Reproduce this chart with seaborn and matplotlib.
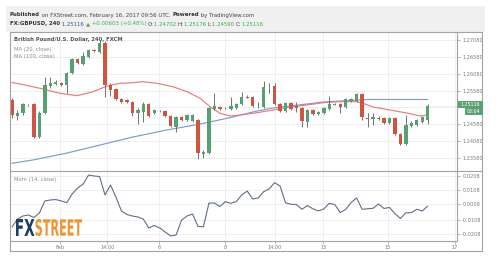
import numpy as np
import pandas as pd
import matplotlib
matplotlib.use("Agg")
import matplotlib.pyplot as plt
import seaborn as sns
from matplotlib.textpath import TextPath
from matplotlib.patches import PathPatch, Rectangle
from matplotlib.font_manager import FontProperties
from matplotlib.transforms import Affine2D
from matplotlib.lines import Line2D

# ---------------- data ----------------
opens = [1.25300, 1.24825, 1.24914, 1.25137, 1.25181, 1.24202, 1.24914, 1.25715, 1.25775, 1.25804,
         1.25745, 1.26101, 1.26516, 1.26368, 1.26575, 1.26783, 1.26724, 1.26991, 1.25745, 1.25626,
         1.25330, 1.25300, 1.25241, 1.24914, 1.24944, 1.25181, 1.24914, 1.24988, 1.24974, 1.24825,
         1.24499, 1.24796, 1.24706, 1.24677, 1.24706, 1.23698, 1.23728, 1.25033, 1.25092, 1.25077,
         1.25033, 1.25063, 1.25181, 1.25389, 1.25389, 1.25152, 1.25092, 1.25700, 1.25715, 1.25181,
         1.24974, 1.25211, 1.25122, 1.25063, 1.24647, 1.25003, 1.24884, 1.24914, 1.25033, 1.25166,
         1.25181, 1.25092, 1.25270, 1.25270, 1.25478, 1.24766, 1.24736, 1.24766, 1.24766, 1.24618,
         1.24766, 1.24291, 1.23995, 1.24529, 1.24558, 1.24647, 1.24702]
highs = [1.25359, 1.25003, 1.25211, 1.25181, 1.25211, 1.24974, 1.25982, 1.25982, 1.25893, 1.25834,
         1.26130, 1.26546, 1.26546, 1.26724, 1.26813, 1.26813, 1.27080, 1.27050, 1.25804, 1.25656,
         1.25359, 1.25330, 1.25270, 1.25063, 1.25241, 1.25211, 1.25033, 1.25003, 1.25003, 1.24855,
         1.24825, 1.24825, 1.24884, 1.24884, 1.24736, 1.23817, 1.25092, 1.25508, 1.25122, 1.25092,
         1.25389, 1.25211, 1.25537, 1.25448, 1.25419, 1.25241, 1.25864, 1.25804, 1.25804, 1.25211,
         1.25241, 1.25241, 1.25241, 1.25092, 1.25033, 1.25033, 1.24974, 1.25092, 1.25419, 1.25211,
         1.25211, 1.25359, 1.25359, 1.25508, 1.25508, 1.24914, 1.24914, 1.24825, 1.24796, 1.24796,
         1.24796, 1.24321, 1.24855, 1.24677, 1.24736, 1.24825, 1.25176]
lows = [1.24766, 1.24706, 1.24855, 1.25122, 1.24173, 1.24173, 1.24884, 1.25656, 1.25745, 1.25715,
        1.25508, 1.26071, 1.26368, 1.26338, 1.26546, 1.26724, 1.26694, 1.25389, 1.25419, 1.25300,
        1.25211, 1.25211, 1.24825, 1.24588, 1.24647, 1.24796, 1.24884, 1.24944, 1.24796, 1.24499,
        1.24351, 1.24677, 1.24677, 1.24647, 1.23550, 1.23580, 1.23698, 1.25003, 1.25003, 1.25033,
        1.25003, 1.25033, 1.25152, 1.25359, 1.25092, 1.25063, 1.25063, 1.25508, 1.25152, 1.24944,
        1.24944, 1.25003, 1.24944, 1.24499, 1.24499, 1.24855, 1.24855, 1.24884, 1.25003, 1.25152,
        1.24914, 1.25063, 1.25241, 1.25241, 1.24706, 1.24499, 1.24558, 1.24706, 1.24588, 1.24588,
        1.24262, 1.23965, 1.23965, 1.24499, 1.24529, 1.24618, 1.24590]
closes = [1.24855, 1.24914, 1.25181, 1.25166, 1.24202, 1.24914, 1.25745, 1.25804, 1.25834, 1.25745,
          1.26101, 1.26516, 1.26397, 1.26605, 1.26783, 1.26753, 1.26991, 1.25745, 1.25597, 1.25330,
          1.25241, 1.25241, 1.24914, 1.25003, 1.25181, 1.24825, 1.25003, 1.24959, 1.24825, 1.24529,
          1.24796, 1.24706, 1.24855, 1.24855, 1.23728, 1.23758, 1.25063, 1.25122, 1.25033, 1.25048,
          1.25122, 1.25181, 1.25389, 1.25374, 1.25122, 1.25137, 1.25686, 1.25671, 1.25181, 1.24974,
          1.25211, 1.25033, 1.25063, 1.24677, 1.25003, 1.24884, 1.24944, 1.25063, 1.25181, 1.25196,
          1.25092, 1.25330, 1.25330, 1.25478, 1.24796, 1.24736, 1.24796, 1.24751, 1.24618, 1.24766,
          1.24291, 1.23995, 1.24558, 1.24618, 1.24706, 1.24796, 1.25116]

ma20_x = [0, 1.5, 5.1, 8.8, 11.9, 14.8, 17.4, 19.7, 22.1, 23.9, 26.5, 29.4, 32.0, 34.4, 36.2, 38.0,
          39.9, 41.7, 44.8, 47.7, 50.8, 53.9, 56.9, 60.0, 63.1, 64.0, 66.0, 69.1, 72.2, 74.6, 76.0]
ma20 = [1.25819, 1.25775, 1.25647, 1.25499, 1.25428, 1.25546, 1.25715, 1.25795, 1.25813, 1.25843,
        1.25795, 1.25695, 1.25546, 1.25350, 1.25101, 1.24906, 1.24825, 1.24855, 1.24923, 1.25003,
        1.25092, 1.25152, 1.25220, 1.25250, 1.25250, 1.25211, 1.25092, 1.25003, 1.24914, 1.24825,
        1.24855]

ma100_x = [0, 3.8, 10.1, 16.1, 22.1, 28.3, 34.4, 40.4, 43.5, 44.8, 47.7, 50.8, 53.9, 56.9, 60.0,
           63.1, 65.4, 70.0, 76.0]
ma100 = [1.23423, 1.23520, 1.23728, 1.23965, 1.24203, 1.24410, 1.24588, 1.24796, 1.24923, 1.24974,
         1.25063, 1.25122, 1.25181, 1.25241, 1.25270, 1.25300, 1.25315, 1.25315, 1.25315]

mom = [-0.0157, -0.0100, -0.0078, -0.0071, -0.0089, -0.0057, 0.0030, 0.0037, 0.0040, 0.0030,
       0.0017, 0.0080, 0.0123, 0.0151, 0.0216, 0.0209, 0.0205, 0.0073, 0.0144, 0.0058,
       -0.0042, -0.0067, -0.0078, -0.0085, -0.0100, -0.0164, -0.0146, -0.0164, -0.0193, -0.0221,
       -0.0214, -0.0107, -0.0078, -0.0064, -0.0153, -0.0155, 0.0015, 0.0015, -0.0010, 0.0025,
       0.0013, 0.0025, 0.0073, 0.0101, 0.0044, 0.0051, 0.0096, 0.0116, 0.0161, 0.0137,
       0.0017, 0.0006, 0.0004, -0.0030, -0.0003, -0.0026, -0.0042, -0.0028, 0.0013, 0.0004,
       -0.0053, -0.0031, 0.0019, 0.0051, -0.0030, -0.0026, -0.0023, 0.0008, -0.0024, -0.0017,
       -0.0060, -0.0096, -0.0055, -0.0054, -0.0030, -0.0042, -0.0006]

# the 1.25080 level is hidden under the last-price box in the reference
price_ticks = [1.27080, 1.26580, 1.26080, 1.25580, 1.25080, 1.24580, 1.24080, 1.23580]
price_tick_labels = ["1.27080", "1.26580", "1.26080", "1.25580", "", "1.24580", "1.24080", "1.23580"]
mom_ticks = [0.0208, 0.0108, 0.0008, -0.0108, -0.0208]
mom_tick_labels = ["0.0208", "0.0108", "0.0008", "-0.0108", "-0.0208"]
x_tick_pos = [8.8, 17.4, 26.9, 38.9, 48.1, 56.9, 68.7, 81.0]
x_tick_labels = ["Feb", "14:00", "6", "8", "14:00", "13", "15", "17"]

last_price_label = "1.25116"
countdown_label = "03:04"

# ---------------- style ----------------
sns.set_style("white")
plt.rcParams['font.family'] = ['DejaVu Sans']

W, H = 500, 268
fig = plt.figure(figsize=(W / 100, H / 100), dpi=100)
fig.patch.set_facecolor("white")

def fx(x):
    return x / W

def fy(y):
    return 1 - y / H

UP = "#55a173"
DOWN = "#cf5441"
WICK = "#5d5d5d"
GRID = "#ececec"
FRAME = "#a3a3a3"
TXT = "#7b7b7b"

# header band
fig.add_artist(Rectangle((fx(6), fy(32)), fx(485) - fx(6), fy(6) - fy(32),
                         transform=fig.transFigure, facecolor="#f0f0f0", edgecolor="none", zorder=0))

ax_p = fig.add_axes([fx(10), fy(171), fx(457) - fx(10), fy(32) - fy(171)])
ax_m = fig.add_axes([fx(10), fy(241), fx(457) - fx(10), fy(171) - fy(241)], sharex=ax_p)

xlim = (-0.37, 81.35)
n = len(closes)
idx = np.arange(n)
df = pd.DataFrame({"i": idx, "open": opens, "high": highs, "low": lows, "close": closes, "mom": mom})
df["up"] = df["close"] >= df["open"]

for ax in (ax_p, ax_m):
    ax.set_facecolor("white")
    for s in ax.spines.values():
        s.set_visible(False)
    for xp in x_tick_pos:
        ax.axvline(xp, color=GRID, lw=0.6, zorder=0)

# price panel
for yv in price_ticks:
    ax_p.axhline(yv, color=GRID, lw=0.6, zorder=0)

ax_p.vlines(df["i"], df["low"], df["high"], color=WICK, lw=0.6, zorder=2)
body_bottom = np.minimum(df["open"], df["close"])
body_h = np.maximum(np.abs(df["close"] - df["open"]), 0.00012)
ax_p.bar(df["i"], body_h, bottom=body_bottom, width=0.62,
         color=np.where(df["up"], UP, DOWN), edgecolor="none", zorder=3)

ma_df20 = pd.DataFrame({"x": ma20_x, "y": ma20})
ma_df100 = pd.DataFrame({"x": ma100_x, "y": ma100})
sns.lineplot(data=ma_df100, x="x", y="y", ax=ax_p, color="#7f9dc8", lw=0.85, sort=False, zorder=1)
sns.lineplot(data=ma_df20, x="x", y="y", ax=ax_p, color="#ea7b78", lw=0.85, sort=False, zorder=1)

ax_p.axhline(closes[-1], xmin=(n - 1 - xlim[0]) / (xlim[1] - xlim[0]), color="#c9c9c9", lw=0.5, ls=":", zorder=1)

ax_p.set_xlim(*xlim)
ax_p.set_ylim(1.23194, 1.27317)
ax_p.yaxis.tick_right()
ax_p.set_yticks(price_ticks)
ax_p.set_yticklabels(price_tick_labels)
ax_p.tick_params(axis="y", right=True, length=2.2, width=0.5, color="#999999", pad=1.5,
                 labelsize=3.6, labelcolor=TXT)
ax_p.tick_params(axis="x", bottom=False, labelbottom=False)
ax_p.set_xlabel("")
ax_p.set_ylabel("")

# momentum panel
for yv in mom_ticks:
    ax_m.axhline(yv, color=GRID, lw=0.6, zorder=0)
sns.lineplot(data=df, x="i", y="mom", ax=ax_m, color="#5e6f86", lw=0.8, sort=False, zorder=2)
ax_m.set_ylim(-0.02573, 0.02446)
ax_m.yaxis.tick_right()
ax_m.set_yticks(mom_ticks)
ax_m.set_yticklabels(mom_tick_labels)
ax_m.tick_params(axis="y", right=True, length=2.2, width=0.5, color="#999999", pad=1.5,
                 labelsize=3.6, labelcolor=TXT)
ax_m.set_xticks(x_tick_pos)
ax_m.set_xticklabels(x_tick_labels)
ax_m.tick_params(axis="x", bottom=True, length=2, width=0.5, color="#999999", pad=1.2,
                 labelsize=3.6, labelcolor=TXT)
ax_m.set_xlabel("")
ax_m.set_ylabel("")
ax_m.set_xlim(*xlim)

# frame lines
def fline(x0, y0, x1, y1, c=FRAME, lw=0.8):
    fig.add_artist(Line2D([fx(x0), fx(x1)], [fy(y0), fy(y1)], transform=fig.transFigure,
                          color=c, lw=lw, zorder=5))

fline(10, 32, 482, 32)
fline(10, 32, 10, 251)
fline(482, 32, 482, 251)
fline(10, 251, 482, 251)
fline(10, 171, 482, 171)
fline(457, 32, 457, 241)
fline(10, 241, 457, 241)

# legend texts
fig.text(fx(14), fy(40), "British Pound/U.S. Dollar, 240, FXCM", fontsize=3.8, color="#555555",
         fontweight="bold", va="center", ha="left")
fig.text(fx(14), fy(49), "MA (20, close)", fontsize=3.8, color="#8c8c8c", va="center", ha="left")
fig.text(fx(14), fy(56.5), "MA (100, close)", fontsize=3.8, color="#8c8c8c", va="center", ha="left")
fig.text(fx(14), fy(179), "Mom (14, close)", fontsize=3.8, color="#8c8c8c", va="center", ha="left")

# last price boxes
fig.add_artist(Rectangle((fx(458), fy(108)), fx(483) - fx(458), fy(101) - fy(108),
                         transform=fig.transFigure, facecolor="#5aa274", edgecolor="none", zorder=6))
fig.text(fx(470.5), fy(104.5), last_price_label, fontsize=3.4, color="white", ha="center", va="center", zorder=7)
fig.add_artist(Rectangle((fx(465), fy(114.5)), fx(483) - fx(465), fy(108.3) - fy(114.5),
                         transform=fig.transFigure, facecolor="#5aa274", edgecolor="none", zorder=6))
fig.text(fx(474), fy(111.4), countdown_label, fontsize=3.4, color="white", ha="center", va="center", zorder=7)

# header lines
fig.canvas.draw()
renderer = fig.canvas.get_renderer()

def seq(x, y, parts, size=3.9):
    for s, c, w in parts:
        t = fig.text(x, y, s, fontsize=size, color=c, fontweight=w, va="center", ha="left", zorder=8)
        bb = t.get_window_extent(renderer)
        x = bb.x1 / fig.bbox.width

seq(fx(10), fy(15), [("Published", "#333333", "bold"),
                     (" on FXStreet.com, February 16, 2017 09:56 UTC. ", "#444444", "normal"),
                     ("Powered", "#333333", "bold"),
                     (" by TradingView.com", "#444444", "normal")])
G = "#3cae4a"
seq(fx(10), fy(24), [("FX:GBPUSD, 240", "#333333", "bold"),
                     (" 1.25116 ", "#3a5b80", "normal"),
                     ("\u25B2", G, "normal"),
                     (" +0.00603 (+0.48%) ", G, "normal"),
                     ("O:", "#444444", "normal"), ("1.24702 ", G, "normal"),
                     ("H:", "#444444", "normal"), ("1.25176 ", G, "normal"),
                     ("L:", "#444444", "normal"), ("1.24590 ", G, "normal"),
                     ("C:", "#444444", "normal"), ("1.25116", G, "normal")])

# FXSTREET logo as text paths
fp = FontProperties(family="DejaVu Sans", weight="bold")

def logo_text(s, x0, x1, ytop, ybot, color):
    tp = TextPath((0, 0), s, size=10, prop=fp)
    ext = tp.get_extents()
    sx = (x1 - x0) / ext.width
    sy = (ybot - ytop) / ext.height
    tr = (Affine2D().translate(-ext.x0, -ext.y0).scale(sx / W, sy / H)
          .translate(fx(x0), fy(ybot)) + fig.transFigure)
    fig.add_artist(PathPatch(tp, transform=tr, facecolor=color, edgecolor="none", zorder=9))

logo_text("FX", 16, 34.5, 219, 236, "#1e3f66")
logo_text("STREET", 35.5, 82, 219, 236, "#f0952e")

fig.savefig("out.png", dpi=100, facecolor="white")
